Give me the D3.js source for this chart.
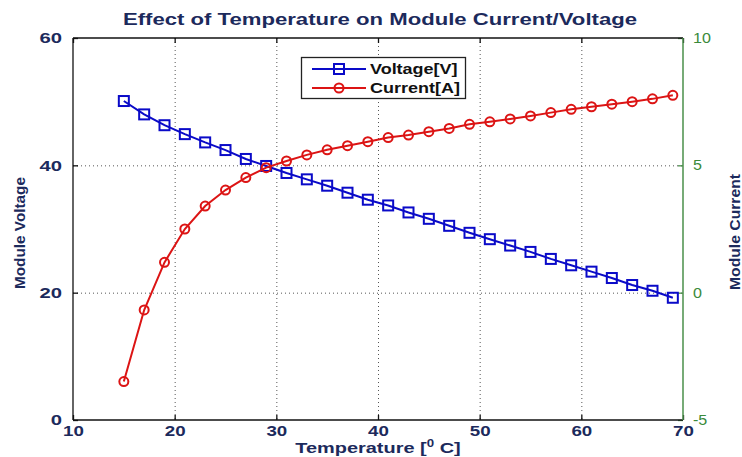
<!DOCTYPE html>
<html><head><meta charset="utf-8">
<script src="https://cdn.jsdelivr.net/npm/d3@7"></script>
<style>
body{margin:0;background:#fff;}
svg{display:block;font-family:"Liberation Sans",Arial,sans-serif;}
</style></head>
<body>
<svg id="c" width="742" height="457"></svg>
<script>
const temperature = [15,17,19,21,23,25,27,29,31,33,35,37,39,41,43,45,47,49,51,53,55,57,59,61,63,65,67,69];
const voltage = [50.1,48.0,46.3,44.9,43.6,42.4,41.0,39.9,38.8,37.8,36.8,35.7,34.6,33.7,32.6,31.6,30.5,29.4,28.4,27.4,26.4,25.3,24.3,23.3,22.3,21.2,20.3,19.2];
const current = [-3.49,-0.68,1.19,2.50,3.40,4.03,4.52,4.91,5.17,5.41,5.61,5.77,5.93,6.09,6.19,6.32,6.45,6.61,6.71,6.82,6.94,7.07,7.20,7.30,7.40,7.50,7.61,7.75];
const xTicks = [10,20,30,40,50,60,70];
const yLeftTicks = [0,20,40,60];
const yRightTicks = [-5,0,5,10];
const seriesNames = ["Voltage[V]","Current[A]"];
const titleText = "Effect of Temperature on Module Current/Voltage";

const navy = "#1c2a5c", blue = "#0a0ac8", red = "#dc1414", green = "#4a8f4a", greenText = "#3a8a3a";
const L = 73, R = 683, T = 38, B = 420;
const svg = d3.select("#c");

const x = d3.scaleLinear().domain([10,70]).range([L,R]);
const yL = d3.scaleLinear().domain([0,60]).range([B,T]);
const yR = d3.scaleLinear().domain([-5,10]).range([B,T]);

// horizontal stretch of a text around its own x anchor
function stretch(sel, s){
  sel.each(function(){
    const t = d3.select(this); const ax = +(t.attr("x")||0);
    t.attr("transform", `translate(${ax},0) scale(${s},1) translate(${-ax},0)`);
  });
}

// grid
const grid = svg.append("g").attr("stroke","#555").attr("stroke-width",1).attr("stroke-dasharray","1,3");
xTicks.slice(1,-1).forEach(t=>grid.append("line").attr("x1",x(t)+0.5).attr("x2",x(t)+0.5).attr("y1",T).attr("y2",B));
yLeftTicks.slice(1,-1).forEach(t=>grid.append("line").attr("x1",L).attr("x2",R).attr("y1",yL(t)+0.5).attr("y2",yL(t)+0.5));

// axes
const fs = "bold 15px 'Liberation Sans', Arial, sans-serif";
const fmt = d => String(d);
const axB = svg.append("g").attr("transform",`translate(0,${B})`)
  .call(d3.axisBottom(x).tickValues(xTicks).tickSize(-5).tickPadding(12).tickFormat(fmt));
const axT = svg.append("g").attr("transform",`translate(0,${T})`)
  .call(d3.axisTop(x).tickValues(xTicks).tickSize(-5).tickFormat(""));
const axL = svg.append("g").attr("transform",`translate(${L},0)`)
  .call(d3.axisLeft(yL).tickValues(yLeftTicks).tickSize(-5).tickPadding(12).tickFormat(fmt));
const axR = svg.append("g").attr("transform",`translate(${R},0)`)
  .call(d3.axisRight(yR).tickValues(yRightTicks).tickSize(-5).tickPadding(10).tickFormat(fmt));
[axB,axT,axL].forEach(a=>{a.selectAll("path,line").attr("stroke","#111").attr("stroke-width",1.3);
  a.select(".domain").attr("d", null);});
axR.selectAll("path,line").attr("stroke",green).attr("stroke-width",1.3);
axR.select(".domain").attr("d",null);
[axB,axL].forEach(a=>a.selectAll("text").attr("fill",navy).style("font",fs));
axB.selectAll("text").attr("y",5).attr("dy","0.71em");
axL.selectAll("text").attr("x",-11);
axR.selectAll("text").attr("x",10).attr("fill",greenText).style("font","14px 'Liberation Sans', Arial, sans-serif");
stretch(axB.selectAll("text"),1.25);
stretch(axL.selectAll("text"),1.35);
stretch(axR.selectAll("text"),1.15);

// frame
svg.append("line").attr("x1",L).attr("x2",R).attr("y1",T).attr("y2",T).attr("stroke","#111").attr("stroke-width",1.3);
svg.append("line").attr("x1",L).attr("x2",R).attr("y1",B).attr("y2",B).attr("stroke","#111").attr("stroke-width",1.3);
svg.append("line").attr("x1",L).attr("x2",L).attr("y1",T).attr("y2",B).attr("stroke","#111").attr("stroke-width",1.3);
svg.append("line").attr("x1",R).attr("x2",R).attr("y1",T).attr("y2",B).attr("stroke",green).attr("stroke-width",1.5);

// series
const vData = temperature.map((t,i)=>({t, v: voltage[i]}));
const cData = temperature.map((t,i)=>({t, v: current[i]}));
svg.append("path").datum(vData).attr("fill","none").attr("stroke",blue).attr("stroke-width",2)
  .attr("d", d3.line().x(d=>x(d.t)).y(d=>yL(d.v)));
svg.append("g").selectAll("rect").data(vData).join("rect")
  .attr("x",d=>x(d.t)-5).attr("y",d=>yL(d.v)-5).attr("width",10).attr("height",10)
  .attr("fill","none").attr("stroke",blue).attr("stroke-width",2);
svg.append("path").datum(cData).attr("fill","none").attr("stroke",red).attr("stroke-width",2)
  .attr("d", d3.line().x(d=>x(d.t)).y(d=>yR(d.v)));
svg.append("g").selectAll("circle").data(cData).join("circle")
  .attr("cx",d=>x(d.t)).attr("cy",d=>yR(d.v)).attr("r",4.5)
  .attr("fill","none").attr("stroke",red).attr("stroke-width",2);

// legend
const lg = svg.append("g");
lg.append("rect").attr("x",301.5).attr("y",57.5).attr("width",164).attr("height",41).attr("fill","#fff").attr("stroke","#222").attr("stroke-width",1.3);
[[blue,"rect"],[red,"circle"]].forEach(([c,m],i)=>{
  const yy = 69 + i*19;
  lg.append("line").attr("x1",312).attr("x2",366).attr("y1",yy).attr("y2",yy).attr("stroke",c).attr("stroke-width",2);
  if(m==="rect") lg.append("rect").attr("x",334).attr("y",yy-5).attr("width",10).attr("height",10).attr("fill","none").attr("stroke",c).attr("stroke-width",2);
  else lg.append("circle").attr("cx",339).attr("cy",yy).attr("r",4.5).attr("fill","none").attr("stroke",c).attr("stroke-width",2);
  const tx = lg.append("text").attr("x",370).attr("y",yy+5).attr("fill","#111").style("font","bold 15px 'Liberation Sans', Arial, sans-serif").text(seriesNames[i]);
  stretch(tx,1.2);
});

// title & labels
svg.append("text").attr("x",380).attr("y",25).attr("text-anchor","middle").attr("fill",navy)
  .style("font","bold 16px 'Liberation Sans', Arial, sans-serif").attr("textLength",514).attr("lengthAdjust","spacingAndGlyphs").text(titleText);
svg.append("text").attr("transform","translate(25,233) rotate(-90)").attr("text-anchor","middle").attr("fill",navy)
  .style("font","bold 15px 'Liberation Sans', Arial, sans-serif").attr("textLength",112).attr("lengthAdjust","spacingAndGlyphs").text("Module Voltage");
svg.append("text").attr("transform","translate(740,232) rotate(-90)").attr("text-anchor","middle").attr("fill",navy)
  .style("font","bold 15px 'Liberation Sans', Arial, sans-serif").attr("textLength",116).attr("lengthAdjust","spacingAndGlyphs").text("Module Current");
const xl = svg.append("text").attr("x",378).attr("y",453).attr("text-anchor","middle").attr("fill",navy)
  .style("font","bold 15px 'Liberation Sans', Arial, sans-serif");
xl.append("tspan").text("Temperature [");
xl.append("tspan").attr("dy",-6).style("font-size","10px").text("0");
xl.append("tspan").attr("dy",6).text(" C]");
stretch(xl,1.33);
</script>
</body></html>
